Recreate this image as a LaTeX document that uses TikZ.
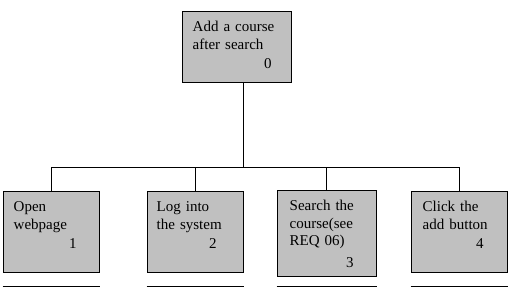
\documentclass[tikz,border=0pt]{standalone}
\usepackage{fontspec}
\setmainfont{Liberation Serif}
\usetikzlibrary{positioning}
\definecolor{boxgray}{HTML}{C0C0C0}

\begin{document}
\begin{tikzpicture}[
    x=1pt, y=1pt,
    line/.style={draw, line width=1pt},
    taskbox/.style={
        draw,
        line width=1pt,
        fill=boxgray,
        inner sep=0pt,
        minimum width=96pt,
        minimum height=81pt
    },
    tasktext/.style={
        anchor=north west,
        inner sep=0pt,
        align=left,
        text width=110pt,
        font=\fontsize{15}{17.5}\selectfont
    }
]
\useasboundingbox (0,0) rectangle (510,296);
% Top node
\node[taskbox, minimum width=109pt, minimum height=71pt] (top) at (236.5,248.5) {};
\node[tasktext] (toptxt) at ([shift={(11,-9)}]top.north west)
    {\rule{0pt}{11pt}Add a course\\after search\\[2pt]\makebox[79pt][r]{0}};
% Step nodes
\node[taskbox] (open) at (51,63.5) {};
\node[taskbox] (login) at (195,63.5) {};
\node[taskbox, minimum width=99pt, minimum height=86pt] (search) at (326.5,62) {};
\node[taskbox] (click) at (459,63.5) {};
% Step texts
\node[tasktext] (opentxt) at ([shift={(11,-9)}]open.north west)
    {\rule{0pt}{11pt}Open\\webpage\\[2pt]\makebox[63pt][r]{1}};
\node[tasktext] (logintxt) at ([shift={(10,-9)}]login.north west)
    {\rule{0pt}{11pt}Log into\\the system\\[2pt]\makebox[60pt][r]{2}};
\node[tasktext] (searchtxt) at ([shift={(13,-9)}]search.north west)
    {\rule{0pt}{11pt}Search the\\course(see\\REQ 06)\\[4pt]\makebox[64pt][r]{3}};
\node[tasktext] (clicktxt) at ([shift={(12,-9)}]click.north west)
    {\rule{0pt}{11pt}Click the\\add button\\[2pt]\makebox[61pt][r]{4}};
% Bus line
\coordinate (bus) at (243,128);
\coordinate (base) at (0,9);
\draw[line] (bus |- top.south) -- (bus);
\draw[line] (open.north) -- (open.north |- bus) -- (click.north |- bus) -- (click.north);
\draw[line] (login.north) -- (login.north |- bus);
\draw[line] (search.north) -- (search.north |- bus);
% Lines under the steps
\draw[line] (open.west |- base) -- (open.east |- base);
\draw[line] (login.west |- base) -- (login.east |- base);
\draw[line] (search.west |- base) -- (search.east |- base);
\draw[line] (click.west |- base) -- (click.east |- base);
\end{tikzpicture}
\end{document}
